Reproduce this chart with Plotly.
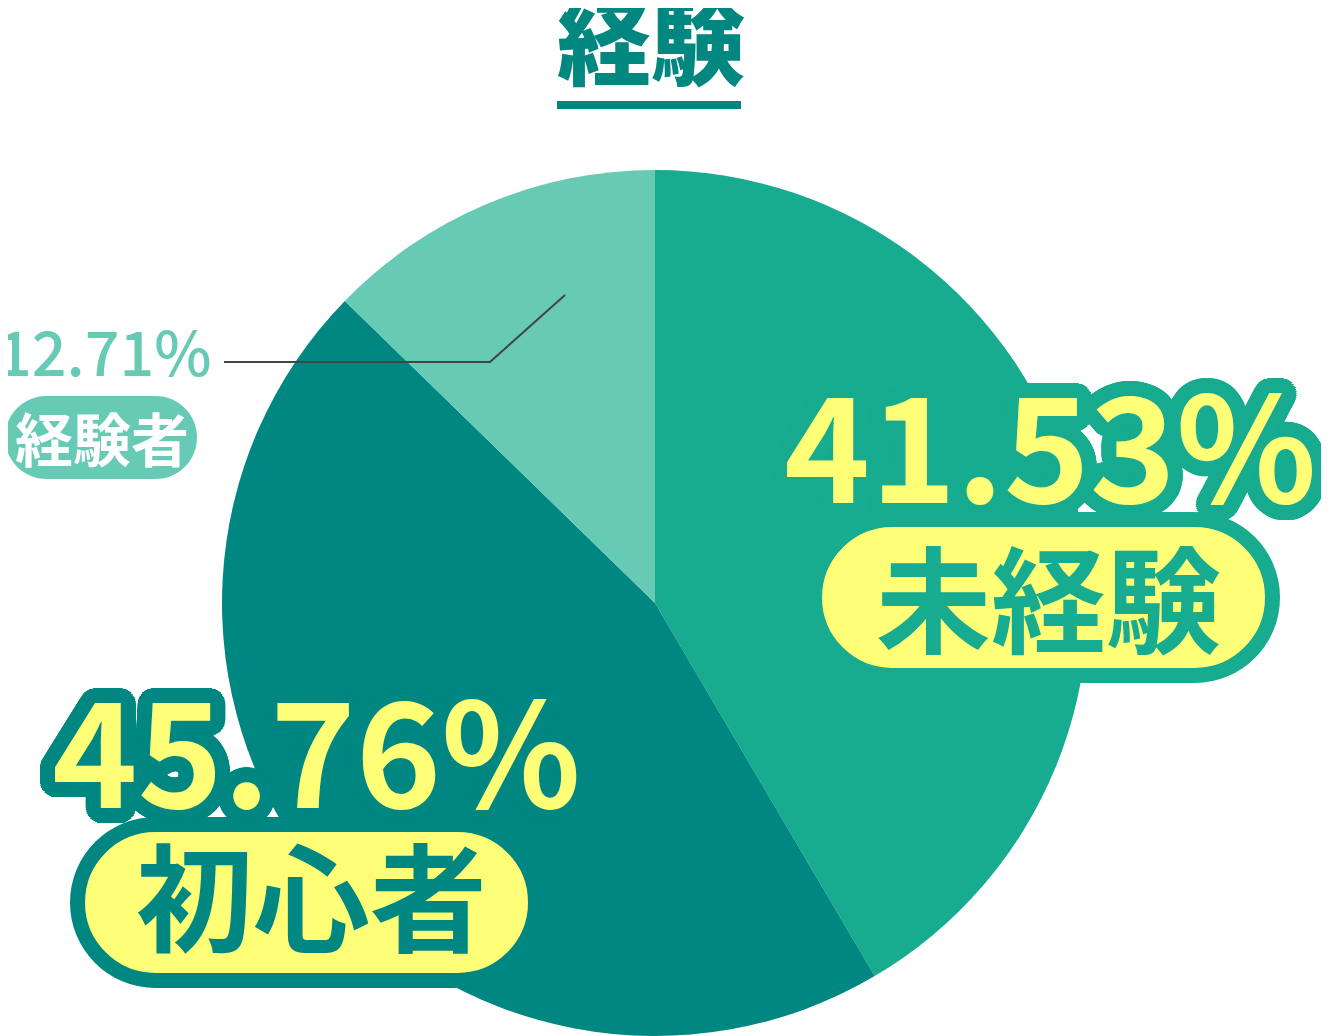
import math
import plotly.graph_objects as go

# data
labels = ["未経験", "初心者", "経験者"]
values = [41.53, 45.76, 12.71]
slice_colors = ["#17AB8F", "#008782", "#66CAB5"]
title_text = "経験"

# the page body has an 8px margin, so the figure is drawn 8px in from the corner
OFF = 8
W, H = 1329 - OFF, 1036 - OFF
YELLOW = "#FFFF77"
JP = "Noto Sans CJK JP"


def px(x):
    return (x - OFF) / W


def py(y):
    return 1 - (y - OFF) / H


def outline(color, r):
    # fake a thick text stroke with stacked text-shadows
    parts = []
    for rr in (r, r * 0.75, r * 0.5, r * 0.25):
        for k in range(48):
            a = 2 * math.pi * k / 48
            parts.append(f"{rr * math.cos(a):.1f}px {rr * math.sin(a):.1f}px 0 {color}")
    return ", ".join(parts)


def pill_path(x0, y0, x1, y1):
    r = (y1 - y0) / 2
    k = 0.5523 * r
    pts = [
        f"M{px(x0 + r)},{py(y0)}",
        f"L{px(x1 - r)},{py(y0)}",
        f"C{px(x1 - r + k)},{py(y0)} {px(x1)},{py(y0 + r - k)} {px(x1)},{py(y0 + r)}",
        f"C{px(x1)},{py(y0 + r + k)} {px(x1 - r + k)},{py(y1)} {px(x1 - r)},{py(y1)}",
        f"L{px(x0 + r)},{py(y1)}",
        f"C{px(x0 + r - k)},{py(y1)} {px(x0)},{py(y1 - r + k)} {px(x0)},{py(y1 - r)}",
        f"C{px(x0)},{py(y1 - r - k)} {px(x0 + r - k)},{py(y0)} {px(x0 + r)},{py(y0)}",
        "Z",
    ]
    return " ".join(pts)


fig = go.Figure()
fig.add_trace(go.Pie(
    labels=labels, values=values,
    marker=dict(colors=slice_colors, line=dict(width=0)),
    sort=False, direction="clockwise", rotation=0,
    textinfo="none", hoverinfo="label+percent", showlegend=False,
    domain=dict(x=[px(655 - 433), px(655 + 433)], y=[max(0, py(603 + 433)), py(603 - 433)]),
))

shapes = []
# title underline
shapes.append(dict(type="rect", xref="paper", yref="paper",
                   x0=px(557), x1=px(741), y0=py(109), y1=py(101),
                   fillcolor="#00877F", line_width=0))
# leader line for the small slice
shapes.append(dict(type="path", xref="paper", yref="paper", layer="above",
                   path=f"M{px(224)},{py(362)} L{px(490)},{py(362)} L{px(565)},{py(295)}",
                   line=dict(color="#444444", width=2)))
# pills
shapes.append(dict(type="path", xref="paper", yref="paper", layer="above",
                   path=pill_path(5, 396, 197, 479),
                   fillcolor=slice_colors[2], line_width=0))
shapes.append(dict(type="path", xref="paper", yref="paper", layer="above",
                   path=pill_path(814.5, 519.5, 1272.5, 675.5),
                   fillcolor=YELLOW, line=dict(color=slice_colors[0], width=15)))
shapes.append(dict(type="path", xref="paper", yref="paper", layer="above",
                   path=pill_path(77.5, 824.5, 535.5, 980.5),
                   fillcolor=YELLOW, line=dict(color=slice_colors[1], width=15)))

pct = [f"{v:.2f}%" for v in values]
annotations = [
    dict(text=title_text, x=px(651), y=py(37),
         font=dict(family=JP, size=94, color="#00877F", weight=900)),
    # 未経験
    dict(text=pct[0], x=px(1050), y=py(439),
         font=dict(family=JP, size=146, color=YELLOW, weight=700,
                   shadow=outline(slice_colors[0], 15))),
    dict(text=labels[0], x=px(1048), y=py(594),
         font=dict(family=JP, size=115, color=slice_colors[0], weight=700)),
    # 初心者
    dict(text=pct[1], x=px(316), y=py(745),
         font=dict(family=JP, size=145, color=YELLOW, weight=700,
                   shadow=outline(slice_colors[1], 15))),
    dict(text=labels[1], x=px(311), y=py(892),
         font=dict(family=JP, size=117, color=slice_colors[1], weight=700)),
    # 経験者
    dict(text=pct[2], x=px(104), y=py(350),
         font=dict(family=JP, size=61, color=slice_colors[2], weight=500)),
    dict(text=labels[2], x=px(102), y=py(437),
         font=dict(family=JP, size=58, color="#FFFFFF", weight=700)),
]
for a in annotations:
    a.update(xref="paper", yref="paper", showarrow=False,
             xanchor="center", yanchor="middle")

fig.update_layout(
    width=W, height=H, autosize=False,
    margin=dict(l=0, r=0, t=0, b=0),
    paper_bgcolor="#FFFFFF", plot_bgcolor="#FFFFFF",
    shapes=shapes, annotations=annotations,
)

fig.write_html("out.html")
